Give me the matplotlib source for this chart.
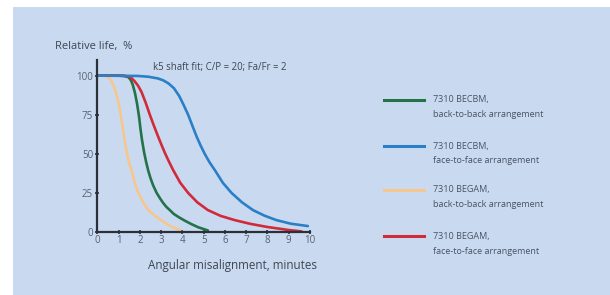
import matplotlib
matplotlib.use("Agg")
import matplotlib.pyplot as plt
from matplotlib.lines import Line2D
from matplotlib.patches import Rectangle

plt.rcParams['font.family'] = ['Open Sans', 'DejaVu Sans']

# Data (angular misalignment in minutes, relative life in %)
x_becbm_b2b = [0, 1.0, 1.3, 1.46, 1.56, 1.66, 1.77, 1.87, 1.96, 2.03, 2.1, 2.2, 2.3, 2.4, 2.5, 2.62, 2.79, 2.95, 3.1, 3.25, 3.41, 3.6, 3.85, 4.12, 4.4, 4.75, 5.2]
y_becbm_b2b = [100, 100, 99.7, 99, 97.5, 94.5, 89, 82, 74, 66, 59, 51, 44.5, 39, 34.5, 30, 25, 21.5, 18.5, 16, 14, 11.5, 9.3, 7.2, 5.2, 3, 1]

x_becbm_f2f = [0, 1.9, 2.4, 2.85, 3.1, 3.35, 3.6, 3.85, 4.05, 4.27, 4.47, 4.67, 4.85, 5.05, 5.28, 5.53, 5.9, 6.31, 6.8, 7.32, 7.85, 8.42, 9.1, 9.9]
y_becbm_f2f = [100, 99.8, 99.3, 98.2, 97, 95, 92, 87, 81.5, 75, 68, 61, 55.5, 50, 44.5, 39.5, 31.5, 25, 19, 14, 10.5, 7.6, 5.3, 3.8]

x_begam_b2b = [0, 0.36, 0.5, 0.62, 0.74, 0.86, 0.97, 1.07, 1.16, 1.25, 1.33, 1.41, 1.5, 1.61, 1.77, 1.93, 2.15, 2.4, 2.7, 3.0, 3.4, 3.9]
y_becbm_dummy = None
y_begam_b2b = [100, 99.8, 99, 97.5, 94.5, 90, 84, 77.5, 70, 62, 55, 49.5, 44, 39.5, 31, 25, 19, 14, 10.5, 7.6, 4, 1.2]

x_begam_f2f = [0, 1.2, 1.45, 1.6, 1.75, 1.92, 2.08, 2.28, 2.47, 2.66, 2.86, 3.04, 3.18, 3.37, 3.57, 3.9, 4.27, 4.7, 5.2, 5.8, 6.46, 7.2, 8.0, 8.97, 9.6]
y_begam_f2f = [100, 100, 99.5, 98.5, 96.5, 93.5, 89.5, 82.5, 75, 68, 61, 55, 50.5, 45, 39.5, 31.5, 25, 19, 14, 10.3, 7.6, 5.2, 3.2, 1.3, 0.4]

series_labels = [("7310 BECBM,", "back-to-back arrangement"),
                 ("7310 BECBM,", "face-to-face arrangement"),
                 ("7310 BEGAM,", "back-to-back arrangement"),
                 ("7310 BEGAM,", "face-to-face arrangement")]
series_colors = ["#23724a", "#2a7fc6", "#f6c68e", "#d12a3a"]

x_ticks = list(range(0, 11))
y_ticks = [0, 25, 50, 75, 100]

W, H = 610, 295
fig = plt.figure(figsize=(W / 100, H / 100), dpi=100)
fig.patch.set_facecolor("white")
bg = "#c9daf0"
fig.add_artist(Rectangle((13 / W, 0), 1 - 13 / W, 1 - 7 / H, transform=fig.transFigure,
                         facecolor=bg, edgecolor="none", zorder=-10))

ax = fig.add_axes([97.3 / W, 63 / H, 212.7 / W, 172 / H])
ax.set_facecolor("none")
series = [(x_becbm_b2b, y_becbm_b2b), (x_becbm_f2f, y_becbm_f2f),
          (x_begam_b2b, y_begam_b2b), (x_begam_f2f, y_begam_f2f)]
order = [2, 0, 3, 1]
for i in order:
    xs, ys = series[i]
    ax.plot(xs, ys, color=series_colors[i], lw=1.9, solid_capstyle="round",
            solid_joinstyle="round", zorder=3)

ax.set_xlim(0, 10)
ax.set_ylim(0, 110)
for s in ["top", "right"]:
    ax.spines[s].set_visible(False)
for s in ["left", "bottom"]:
    ax.spines[s].set_color("#2b2f36")
    ax.spines[s].set_linewidth(1.6)
    ax.spines[s].set_zorder(4)
ax.set_xticks(x_ticks)
ax.set_yticks(y_ticks)
ax.tick_params(axis="both", colors="#2b2f36", labelcolor="#5a6170", labelsize=7,
               width=1.2, length=3, direction="inout", pad=1.5)
ax.tick_params(axis="x", pad=1)

tc = "#3f4552"
fig.text(55 / W, 1 - 47 / H, "Relative life,  %", fontsize=8, color=tc, va="center", ha="left")
fig.text(153 / W, 1 - 67.5 / H, "k5 shaft fit; C/P = 20; Fa/Fr = 2", fontsize=6.9,
         color=tc, va="center", ha="left")
fig.text(317 / W, 1 - 265 / H, "Angular misalignment, minutes", fontsize=8.4, color=tc,
         va="center", ha="right")

leg_y = [99.5, 146, 189.5, 236]
for (l1, l2), c, yy in zip(series_labels, series_colors, leg_y):
    fig.add_artist(Line2D([384 / W, 424 / W], [1 - yy / H, 1 - yy / H],
                          transform=fig.transFigure, color=c, lw=2.2))
    fig.text(433 / W, 1 - yy / H, l1, fontsize=6.5, color="#4a5263", va="center", ha="left")
    fig.text(433 / W, 1 - (yy + 15) / H, l2, fontsize=6.5, color="#4a5263", va="center", ha="left")

fig.savefig("out.png", dpi=100, facecolor=fig.get_facecolor())
